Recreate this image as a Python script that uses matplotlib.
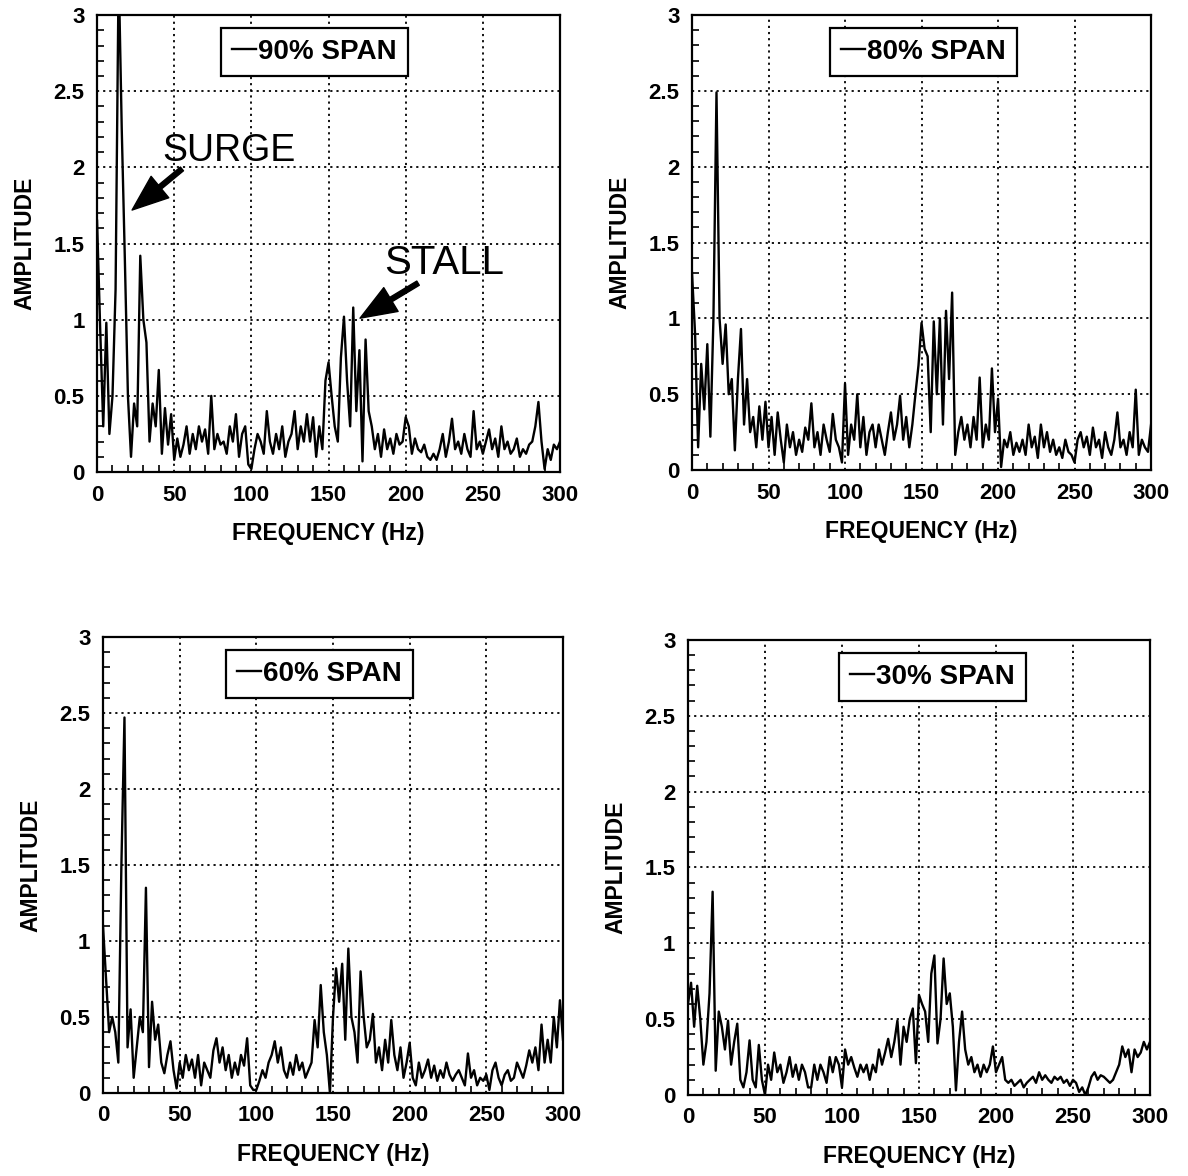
import matplotlib
matplotlib.use("Agg")
import matplotlib.pyplot as plt
from matplotlib.ticker import MultipleLocator, FuncFormatter

plt.rcParams['font.family'] = ['Liberation Sans', 'DejaVu Sans']

# frequency grid (Hz), 2 Hz steps
freq = list(range(0, 301, 2))

# amplitude, one value per 2 Hz
span90 = [1.65, 0.95, 0.3, 0.98, 0.25, 0.5, 1.2, 3.3, 2.25, 1.4,
          0.5, 0.1, 0.45, 0.3, 1.42, 1.0, 0.85, 0.2, 0.45, 0.3,
          0.67, 0.12, 0.42, 0.18, 0.38, 0.08, 0.22, 0.1, 0.18, 0.3,
          0.12, 0.25, 0.15, 0.3, 0.2, 0.28, 0.12, 0.5, 0.15, 0.25,
          0.18, 0.2, 0.12, 0.3, 0.2, 0.38, 0.1, 0.25, 0.3, 0.05,
          0.02, 0.15, 0.25, 0.2, 0.12, 0.4, 0.2, 0.12, 0.25, 0.15,
          0.3, 0.1, 0.2, 0.25, 0.4, 0.15, 0.3, 0.2, 0.38, 0.2,
          0.36, 0.1, 0.3, 0.15, 0.6, 0.72, 0.5, 0.3, 0.2, 0.75,
          1.02, 0.6, 0.3, 1.08, 0.4, 0.8, 0.07, 0.87, 0.4, 0.3,
          0.15, 0.25, 0.1, 0.28, 0.15, 0.22, 0.12, 0.25, 0.18, 0.2,
          0.36, 0.3, 0.12, 0.22, 0.15, 0.13, 0.18, 0.1, 0.08, 0.12,
          0.08, 0.15, 0.25, 0.1, 0.2, 0.35, 0.15, 0.2, 0.12, 0.25,
          0.15, 0.1, 0.4, 0.15, 0.2, 0.12, 0.2, 0.28, 0.15, 0.22,
          0.1, 0.3, 0.15, 0.2, 0.12, 0.15, 0.22, 0.1, 0.15, 0.12,
          0.18, 0.2, 0.3, 0.46, 0.2, 0.02, 0.15, 0.08, 0.18, 0.15,
          0.2]

span80 = [1.3, 0.9, 0.15, 0.7, 0.4, 0.83, 0.22, 1.0, 2.49, 1.0,
          0.7, 0.96, 0.5, 0.6, 0.13, 0.6, 0.93, 0.3, 0.6, 0.25,
          0.35, 0.15, 0.42, 0.2, 0.45, 0.15, 0.35, 0.1, 0.38, 0.2,
          0.05, 0.3, 0.15, 0.25, 0.1, 0.2, 0.12, 0.28, 0.2, 0.44,
          0.15, 0.25, 0.1, 0.3, 0.2, 0.12, 0.37, 0.2, 0.15, 0.05,
          0.57, 0.1, 0.3, 0.2, 0.5, 0.15, 0.35, 0.1, 0.25, 0.3,
          0.15, 0.3, 0.2, 0.1, 0.25, 0.38, 0.2, 0.3, 0.49, 0.2,
          0.35, 0.15, 0.3, 0.5, 0.69, 0.97, 0.8, 0.75, 0.25, 0.98,
          0.5, 1.0, 0.3, 1.05, 0.6, 1.17, 0.1, 0.25, 0.35, 0.2,
          0.3, 0.15, 0.35, 0.2, 0.61, 0.15, 0.3, 0.2, 0.67, 0.25,
          0.47, 0.02, 0.2, 0.15, 0.25, 0.1, 0.18, 0.12, 0.2, 0.1,
          0.3, 0.15, 0.22, 0.08, 0.3, 0.15, 0.25, 0.12, 0.2, 0.1,
          0.15, 0.08, 0.2, 0.12, 0.1, 0.05, 0.2, 0.25, 0.15, 0.22,
          0.1, 0.28, 0.15, 0.2, 0.08, 0.25, 0.15, 0.1, 0.2, 0.38,
          0.15, 0.2, 0.1, 0.25, 0.15, 0.53, 0.1, 0.2, 0.15, 0.12,
          0.3]

span60 = [1.1, 0.75, 0.4, 0.5, 0.4, 0.2, 1.5, 2.47, 0.3, 0.55,
          0.1, 0.3, 0.5, 0.4, 1.35, 0.17, 0.6, 0.35, 0.45, 0.2,
          0.13, 0.25, 0.34, 0.15, 0.03, 0.2, 0.1, 0.25, 0.15, 0.22,
          0.1, 0.25, 0.05, 0.2, 0.15, 0.1, 0.28, 0.36, 0.2, 0.3,
          0.15, 0.25, 0.1, 0.2, 0.12, 0.25, 0.18, 0.36, 0.05, 0.02,
          0.02, 0.08, 0.15, 0.1, 0.2, 0.25, 0.34, 0.2, 0.3, 0.15,
          0.1, 0.2, 0.12, 0.25, 0.15, 0.2, 0.1, 0.15, 0.2, 0.48,
          0.3, 0.71, 0.4, 0.25, 0.0, 0.5, 0.82, 0.6, 0.85, 0.35,
          0.95, 0.5, 0.4, 0.2, 0.8, 0.5, 0.3, 0.35, 0.52, 0.2,
          0.3, 0.15, 0.35, 0.2, 0.48, 0.25, 0.15, 0.3, 0.1, 0.2,
          0.33, 0.1, 0.05, 0.2, 0.1, 0.15, 0.22, 0.1, 0.18, 0.08,
          0.15, 0.1, 0.2, 0.12, 0.08, 0.12, 0.15, 0.1, 0.05, 0.26,
          0.1, 0.15, 0.05, 0.1, 0.08, 0.12, 0.02, 0.15, 0.2, 0.1,
          0.05, 0.12, 0.15, 0.08, 0.1, 0.2, 0.15, 0.1, 0.18, 0.28,
          0.2, 0.3, 0.15, 0.45, 0.2, 0.35, 0.2, 0.5, 0.3, 0.61,
          0.35]

span30 = [0.6, 0.74, 0.45, 0.72, 0.5, 0.2, 0.35, 0.67, 1.34, 0.16,
          0.55, 0.45, 0.3, 0.49, 0.2, 0.35, 0.47, 0.1, 0.05, 0.15,
          0.36, 0.1, 0.05, 0.33, 0.1, 0.0, 0.2, 0.1, 0.28, 0.15,
          0.2, 0.08, 0.15, 0.25, 0.12, 0.2, 0.1, 0.2, 0.15, 0.05,
          0.05, 0.2, 0.1, 0.2, 0.15, 0.08, 0.25, 0.15, 0.25, 0.2,
          0.05, 0.3, 0.2, 0.25, 0.18, 0.12, 0.2, 0.15, 0.2, 0.1,
          0.2, 0.15, 0.3, 0.2, 0.28, 0.37, 0.25, 0.35, 0.49, 0.2,
          0.45, 0.35, 0.5, 0.57, 0.21, 0.66, 0.6, 0.55, 0.35, 0.8,
          0.92, 0.34, 0.5, 0.9, 0.6, 0.67, 0.45, 0.03, 0.35, 0.55,
          0.3, 0.2, 0.25, 0.15, 0.2, 0.12, 0.2, 0.15, 0.2, 0.32,
          0.15, 0.2, 0.25, 0.1, 0.08, 0.1, 0.06, 0.08, 0.1, 0.05,
          0.08, 0.1, 0.12, 0.08, 0.15, 0.1, 0.13, 0.1, 0.08, 0.12,
          0.1, 0.12, 0.08, 0.1, 0.06, 0.1, 0.08, 0.02, 0.05, 0.0,
          0.05, 0.12, 0.15, 0.1, 0.13, 0.12, 0.1, 0.08, 0.1, 0.15,
          0.2, 0.32, 0.25, 0.3, 0.15, 0.3, 0.25, 0.28, 0.35, 0.3,
          0.35]

labels = ["90% SPAN", "80% SPAN", "60% SPAN", "30% SPAN"]


def draw_panel(ax, y, label, legend_x):
    ax.plot(freq, y, "-", color="black", lw=1.7, label=label)
    ax.set_xlim(0, 300)
    ax.set_ylim(0, 3)
    ax.xaxis.set_major_locator(MultipleLocator(50))
    ax.xaxis.set_minor_locator(MultipleLocator(10))
    ax.yaxis.set_major_locator(MultipleLocator(0.5))
    ax.yaxis.set_minor_locator(MultipleLocator(0.1))
    ax.yaxis.set_major_formatter(FuncFormatter(lambda v, p: "%g" % v))
    ax.tick_params(which="both", direction="in", width=1.2)
    ax.tick_params(which="major", length=0, labelsize=16, pad=9)
    ax.tick_params(axis="x", which="major", pad=9)
    ax.tick_params(which="minor", length=5)
    for t in ax.get_xticklabels() + ax.get_yticklabels():
        t.set_fontweight("bold")
    ax.grid(True, which="major", color="black", linestyle=(0, (1.2, 2.2)), lw=1.3)
    for s in ax.spines.values():
        s.set_linewidth(1.6)
    ax.set_xlabel("FREQUENCY (Hz)", fontsize=16.5, fontweight="bold", labelpad=12)
    ax.set_ylabel("AMPLITUDE", fontsize=16.5, fontweight="bold", labelpad=12)
    leg = ax.legend(loc="upper center", bbox_to_anchor=(legend_x, 0.972),
                    borderaxespad=0, fancybox=False, handlelength=0.85,
                    handletextpad=0.08, borderpad=0.4,
                    prop={"size": 20, "weight": "bold"})
    leg.get_frame().set_edgecolor("black")
    leg.get_frame().set_linewidth(1.6)
    leg.get_frame().set_alpha(1)


fig = plt.figure(figsize=(11.88, 11.76), dpi=100)
ax1 = fig.add_axes([0.0817, 0.5986, 0.3897, 0.3886])
ax2 = fig.add_axes([0.5825, 0.6003, 0.3864, 0.3869])
ax3 = fig.add_axes([0.0867, 0.0706, 0.3872, 0.3878])
ax4 = fig.add_axes([0.5791, 0.0689, 0.3889, 0.3869])

draw_panel(ax1, span90, labels[0], 0.47)
draw_panel(ax2, span80, labels[1], 0.504)
draw_panel(ax3, span60, labels[2], 0.47)
draw_panel(ax4, span30, labels[3], 0.529)

# arrows pointing at the surge and stall peaks
arrow = dict(facecolor="black", edgecolor="black", width=3.5, headwidth=20, headlength=26, shrink=0)
ax1.annotate("", xy=(22.7, 1.72), xytext=(55, 1.99), arrowprops=arrow)
ax1.text(42, 1.99, "SURGE", fontsize=27, ha="left", va="bottom")
ax1.annotate("", xy=(170.4, 1.01), xytext=(208, 1.24), arrowprops=arrow)
ax1.text(186, 1.25, "STALL", fontsize=29, ha="left", va="bottom")

fig.savefig("out.png", dpi=100)
